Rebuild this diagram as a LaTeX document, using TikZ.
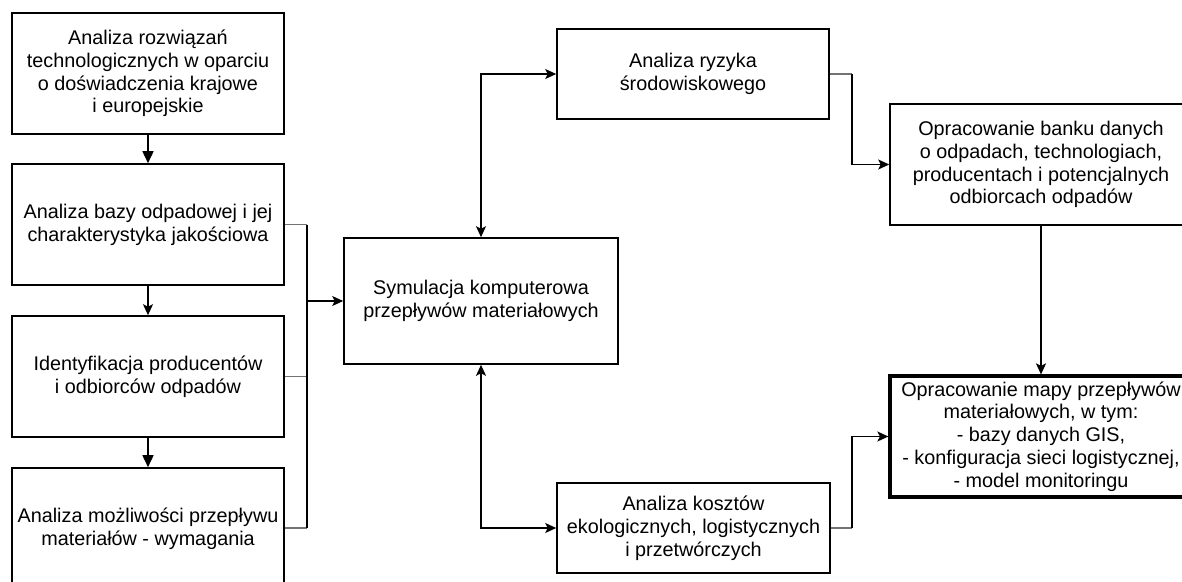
\documentclass[tikz,border=0pt]{standalone}
\usepackage{fontspec}
\setmainfont{Liberation Sans}
\usetikzlibrary{arrows.meta}
\begin{document}
\begin{tikzpicture}[x=1pt,y=-1pt,
  box/.style={draw, line width=1.6pt, align=center, inner sep=0pt,
    font=\fontsize{19.8}{22.8}\selectfont},
  thickbox/.style={box, line width=3.2pt},
  conn/.style={line width=1.6pt},
  stub/.style={line width=1.6pt, black!55},
  arr/.style={-{Stealth[length=11pt,width=10pt,inset=2.5pt]}},
  darr/.style={{Stealth[length=11pt,width=10pt,inset=2.5pt]}-{Stealth[length=11pt,width=10pt,inset=2.5pt]}},
  tarr/.style={-{Triangle[length=12pt,width=11pt]}}
]
\useasboundingbox (0,0) rectangle (1182,581);
\clip (0,0) rectangle (1182,581);
\fill[white] (0,0) rectangle (1182,581);

\node[box, minimum width=272pt, minimum height=121pt] (b1) at (148,73.5)
  {Analiza rozwiązań\\technologicznych w oparciu\\o doświadczenia krajowe\\i europejskie};
\node[box, minimum width=272pt, minimum height=121pt] (b2) at (148,224.5)
  {Analiza bazy odpadowej i jej\\charakterystyka jakościowa};
\node[box, minimum width=272pt, minimum height=121pt] (b3) at (148,376.5)
  {Identyfikacja producentów\\i odbiorców odpadów};
\node[box, minimum width=272pt, minimum height=121pt] (b4) at (148,528.5)
  {Analiza możliwości przepływu\\materiałów - wymagania};

\node[box, minimum width=274pt, minimum height=126pt] (sym) at (481,301)
  {Symulacja komputerowa\\przepływów materiałowych};
\node[box, minimum width=272pt, minimum height=90pt] (ryz) at (693,74)
  {Analiza ryzyka\\środowiskowego};
\node[box, minimum width=273pt, minimum height=90pt] (kosz) at (693.5,528)
  {Analiza kosztów\\ekologicznych, logistycznych\\i przetwórczych};
\node[box, minimum width=302pt, minimum height=121pt] (bank) at (1041,164.5)
  {Opracowanie banku danych\\o odpadach, technologiach,\\producentach i potencjalnych\\odbiorcach odpadów};
\node[thickbox, minimum width=302pt, minimum height=121pt] (mapa) at (1041,436.5)
  {Opracowanie mapy przepływów\\materiałowych, w tym:\\- bazy danych GIS,\\- konfiguracja sieci logistycznej,\\- model monitoringu};

% left column
\draw[conn, tarr] (b1) -- (b2);
\draw[conn, arr] (b2) -- (b3);
\draw[conn, tarr] (b3) -- (b4);

% bus to simulation
\coordinate (busT) at (307,224.5);
\coordinate (busM) at (307,376.5);
\coordinate (busB) at (307,528);
\coordinate (busA) at (307,301);
\draw[stub] (b2.east) -- (busT);
\draw[stub] (b3.east) -- (busM);
\draw[stub] (b4.east |- busB) -- (busB);
\draw[conn] (busT) -- (busB);
\draw[conn, arr] (busA) -- (sym.west |- busA);

% simulation <-> analyses
\draw[conn, darr] (sym.north) |- (ryz.west);
\draw[conn, darr] (sym.south) |- (kosz.west);

% to right column
\coordinate (r1) at (852,74);
\coordinate (r2) at (852,528);
\draw[stub] (ryz.east) -- (r1);
\draw[conn, arr] (r1) |- (bank.west);
\draw[stub] (kosz.east) -- (r2);
\draw[conn, arr] (r2) |- (mapa.west);
\draw[conn, arr] (bank.south) -- (mapa.north);
\end{tikzpicture}
\end{document}
